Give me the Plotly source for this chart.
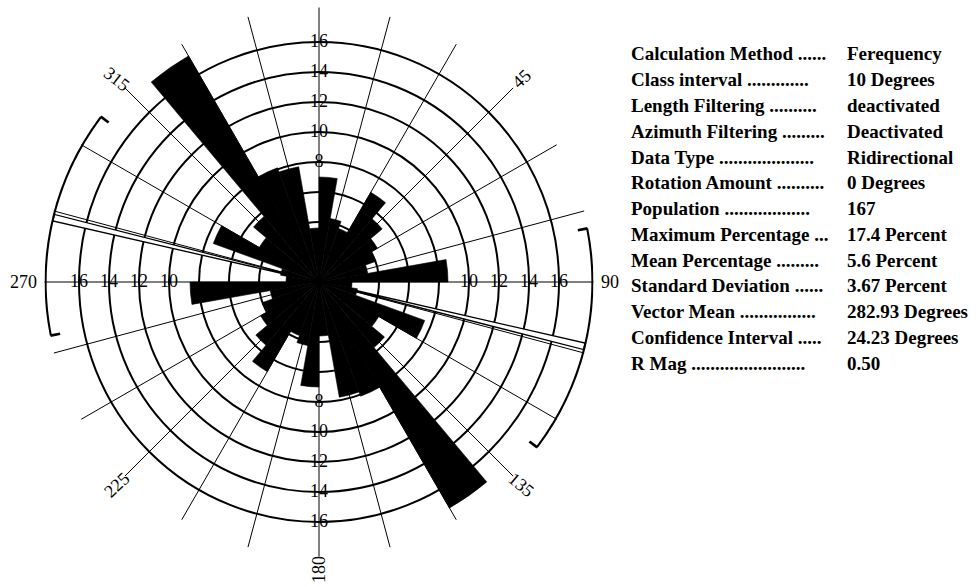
import numpy as np
import plotly.graph_objects as go

# Bidirectional rose: 18 classes of 10 degrees, each repeated at +180
class_start = list(range(0, 180, 10))
class_pct = [7.0, 4.3, 3.8, 6.9, 5.5, 4.5, 4.0, 3.3, 8.6,
             2.2, 2.6, 7.5, 4.6, 5.7, 17.4, 8.1, 7.8, 3.6]
class_width = 10

ring_values = [2, 4, 6, 8, 10, 12, 14, 16]
# ring labels printed along each main axis (8 is hidden under the E/W petals)
axis_ring_labels = {0: [8, 10, 12, 14, 16], 180: [8, 10, 12, 14, 16],
                    90: [10, 12, 14, 16], 270: [10, 12, 14, 16]}

vector_mean = 282.93
confidence = 24.23
mean_line_spread = 1.4

angle_labels = ["45", "135", "225", "315", "90", "180", "270"]
angle_label_theta = [45, 135, 225, 315, 90, 180, 270]
angle_label_rot = [-43, 40, -43, 38, 0, -90, 0]
angle_label_r = [19.1, 19.1, 19.1, 19.1, 19.4, 19.2, 19.7]

stats_names = [
    "Calculation Method ......",
    "Class interval .............",
    "Length Filtering ..........",
    "Azimuth Filtering .........",
    "Data Type ....................",
    "Rotation Amount ..........",
    "Population ..................",
    "Maximum Percentage ...",
    "Mean Percentage .........",
    "Standard Deviation ......",
    "Vector Mean ................",
    "Confidence Interval .....",
    "R Mag ........................",
]
stats_values = [
    "Ferequency", "10 Degrees", "deactivated", "Deactivated", "Ridirectional",
    "0 Degrees", "167", "17.4 Percent", "5.6 Percent", "3.67 Percent",
    "282.93 Degrees", "24.23 Degrees", "0.50",
]

# ---- page geometry ----
W, H = 979, 587
CX, CY = 319, 282          # centre of the rose in pixels (from top-left)
PX_PER_UNIT = 15
R_MAX = 18.3
half = R_MAX * PX_PER_UNIT
dom_x = [(CX - half) / W, (CX + half) / W]
dom_y = [(H - CY - half) / H, (H - CY + half) / H]

SERIF = "Liberation Serif"

theta_all = [s + class_width / 2 for s in class_start] + \
            [s + 180 + class_width / 2 for s in class_start]
r_all = class_pct + class_pct

fig = go.Figure()

fig.add_trace(go.Barpolar(
    r=r_all, theta=theta_all, width=[class_width] * len(r_all),
    marker=dict(color="black", line=dict(color="black", width=0.6)),
    hoverinfo="skip", showlegend=False,
))

# vector mean: narrow white wedge with black edges through the centre
for base in (vector_mean, vector_mean - 180):
    t0, t1 = base, base + mean_line_spread
    fig.add_trace(go.Scatterpolar(
        r=[0, 18.2, 18.2, 0], theta=[t0, t0, t1, t1],
        mode="lines", fill="toself", fillcolor="white",
        line=dict(color="black", width=1.3),
        hoverinfo="skip", showlegend=False,
    ))

# confidence interval arcs with radial end caps
arc_r = 18.25
for base in (vector_mean, vector_mean - 180):
    th = np.linspace(base - confidence, base + confidence, 80)
    fig.add_trace(go.Scatterpolar(
        r=[arc_r] * len(th), theta=th, mode="lines",
        line=dict(color="black", width=2.8),
        hoverinfo="skip", showlegend=False,
    ))
    for end in (base - confidence, base + confidence):
        fig.add_trace(go.Scatterpolar(
            r=[arc_r, arc_r - 0.65], theta=[end, end], mode="lines",
            line=dict(color="black", width=2.6),
            hoverinfo="skip", showlegend=False,
        ))

# ring value labels along the four main axes
lab_r = [v for a, vals in axis_ring_labels.items() for v in vals]
lab_t = [a for a, vals in axis_ring_labels.items() for v in vals]
fig.add_trace(go.Scatterpolar(
    r=lab_r, theta=lab_t, mode="text", text=[str(v) for v in lab_r],
    textposition="middle center",
    textfont=dict(family=SERIF, size=18, color="black"),
    hoverinfo="skip", showlegend=False,
))

# invisible cartesian overlay spanning the whole page, same scale as the rose
fig.add_trace(go.Scatter(x=[None], y=[None], showlegend=False, hoverinfo="skip"))

for txt, th, rot, rr in zip(angle_labels, angle_label_theta, angle_label_rot, angle_label_r):
    a = np.radians(th)
    fig.add_annotation(
        x=rr * np.sin(a), y=rr * np.cos(a), xref="x", yref="y",
        text=txt, showarrow=False, textangle=rot,
        font=dict(family=SERIF, size=18, color="black"),
        xanchor="center", yanchor="middle",
    )

# statistics panel
y0, dy = 54, 25.75
for i, (nm, val) in enumerate(zip(stats_names, stats_values)):
    yp = 1 - (y0 + dy * i) / H
    fig.add_annotation(x=629 / W, y=yp, xref="paper", yref="paper",
                       text="<b>" + nm + "</b>", showarrow=False,
                       xanchor="left", yanchor="middle",
                       font=dict(family=SERIF, size=19, color="black"))
    fig.add_annotation(x=845 / W, y=yp, xref="paper", yref="paper",
                       text="<b>" + val + "</b>", showarrow=False,
                       xanchor="left", yanchor="middle",
                       font=dict(family=SERIF, size=19, color="black"))

fig.update_layout(
    width=W, height=H, margin=dict(l=0, r=0, t=0, b=0),
    paper_bgcolor="white", plot_bgcolor="rgba(0,0,0,0)",
    showlegend=False,
    xaxis=dict(domain=[0, 1], range=[-CX / PX_PER_UNIT, (W - CX) / PX_PER_UNIT],
               visible=False, fixedrange=True),
    yaxis=dict(domain=[0, 1], range=[-(H - CY) / PX_PER_UNIT, CY / PX_PER_UNIT],
               visible=False, fixedrange=True),
    polar=dict(
        domain=dict(x=dom_x, y=dom_y),
        bgcolor="rgba(0,0,0,0)",
        radialaxis=dict(range=[0, R_MAX], tickmode="array", tickvals=ring_values,
                        showticklabels=False, ticks="", showline=False,
                        gridcolor="black", gridwidth=1.6),
        angularaxis=dict(rotation=90, direction="clockwise", tickmode="linear",
                         tick0=0, dtick=15, showticklabels=False, ticks="",
                         showline=False, gridcolor="black", gridwidth=1.4),
    ),
)

fig.write_html("out.html")
